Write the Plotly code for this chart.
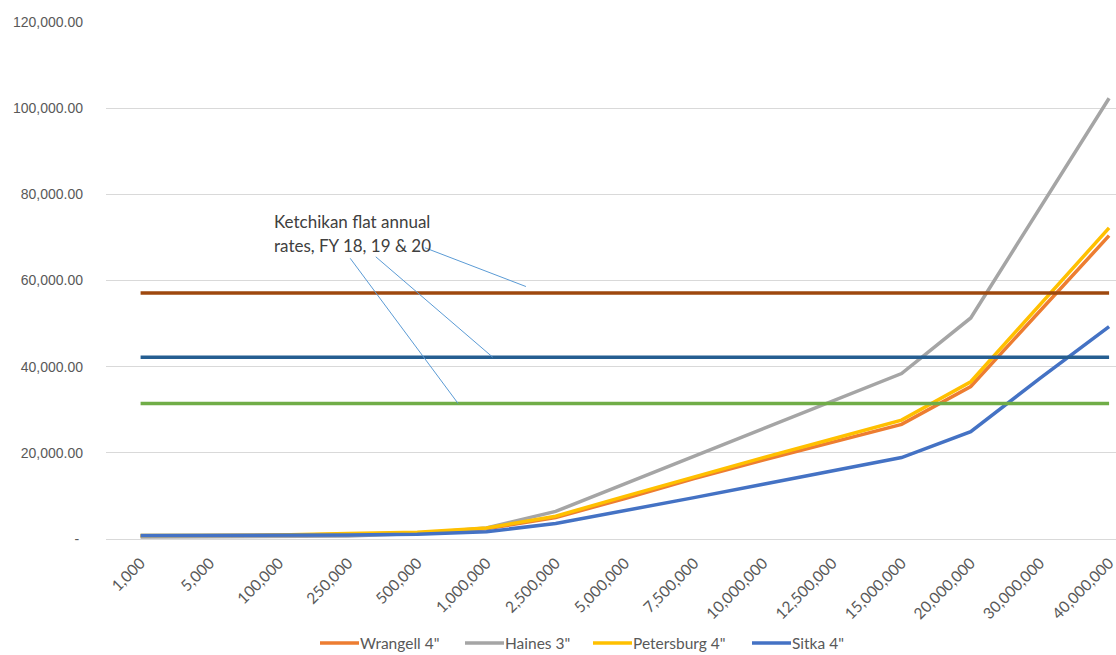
import plotly.graph_objects as go

# Annual water volume (gallons) used as the category axis
volumes = ["1,000", "5,000", "100,000", "250,000", "500,000", "1,000,000",
           "2,500,000", "5,000,000", "7,500,000", "10,000,000", "12,500,000",
           "15,000,000", "20,000,000", "30,000,000", "40,000,000"]

# Annual charge for each community at those volumes
wrangell_4in = [700, 750, 850, 1100, 1400, 2350, 5000, 9400, 14000, 18300,
                22500, 26600, 35400, 52800, 70400]
haines_3in = [450, 470, 500, 700, 1300, 2560, 6400, 12800, 19000, 25400,
              31900, 38400, 51300, 76800, 102300]
petersburg_4in = [800, 850, 900, 1250, 1550, 2550, 5300, 9900, 14500, 18900,
                  23200, 27600, 36500, 54300, 72200]
sitka_4in = [800, 800, 820, 930, 1090, 1700, 3600, 6500, 9600, 12700,
             15800, 18900, 24900, 37300, 49300]

# Ketchikan flat annual rates (FY 18, 19, 20)
ketchikan_fy18 = 57100
ketchikan_fy19 = 42200
ketchikan_fy20 = 31450

y_ticks = [0, 20000, 40000, 60000, 80000, 100000, 120000]
y_tick_text = ["-\u00a0", "20,000.00", "40,000.00", "60,000.00",
               "80,000.00", "100,000.00", "120,000.00"]

series = [
    ("Wrangell 4\"", wrangell_4in, "#ED7D31"),
    ("Haines 3\"", haines_3in, "#A5A5A5"),
    ("Petersburg 4\"", petersburg_4in, "#FFC000"),
    ("Sitka 4\"", sitka_4in, "#4472C4"),
]

flat_rates = [
    ("Ketchikan FY 18", ketchikan_fy18, "#9E480E"),
    ("Ketchikan FY 19", ketchikan_fy19, "#255E91"),
    ("Ketchikan FY 20", ketchikan_fy20, "#70AD47"),
]

# Figure geometry (pixels)
W, H = 1116, 655
ML, MR, MT, MB = 106, 0, 22, 116
PW, PH = W - ML - MR, H - MT - MB


def px_to_paper_x(px):
    return (px - ML) / PW


def px_to_paper_y(py):
    return (H - MB - py) / PH


fig = go.Figure()

for name, values, color in series:
    fig.add_trace(go.Scatter(
        x=volumes, y=values, name=name, mode="lines",
        line=dict(color=color, width=3.5), showlegend=False,
    ))

for name, rate, color in flat_rates:
    fig.add_trace(go.Scatter(
        x=volumes, y=[rate] * len(volumes), name=name, mode="lines",
        line=dict(color=color, width=3.5), showlegend=False,
    ))

# Callout label for the flat-rate lines
label_font = dict(family="Lato, sans-serif", size=17, color="#404040")
fig.add_annotation(x=1.9, y=73600, xref="x", yref="y", text="Ketchikan flat annual",
                   showarrow=False, xanchor="left", yanchor="middle", font=label_font)
fig.add_annotation(x=1.9, y=68200, xref="x", yref="y", text="rates, FY 18, 19 & 20",
                   showarrow=False, xanchor="left", yanchor="middle", font=label_font)

# Leader lines from the label to each flat-rate line
leaders = [
    (4.11, 67600, 5.57, ketchikan_fy18 + 1500),
    (3.40, 65500, 5.09, ketchikan_fy19),
    (3.03, 65150, 4.59, ketchikan_fy20),
]
for x0, y0, x1, y1 in leaders:
    fig.add_shape(type="line", xref="x", yref="y", x0=x0, y0=y0, x1=x1, y1=y1,
                  line=dict(color="#5B9BD5", width=1))

# Legend row below the axis: swatch line followed by the series name
legend_starts = [320, 465, 593, 752]
legend_y = px_to_paper_y(643)
for (name, _, color), start in zip(series, legend_starts):
    fig.add_shape(type="line", xref="paper", yref="paper",
                  x0=px_to_paper_x(start), x1=px_to_paper_x(start + 39),
                  y0=legend_y, y1=legend_y,
                  line=dict(color=color, width=3.5))
    fig.add_annotation(x=px_to_paper_x(start + 40), y=legend_y, xref="paper", yref="paper",
                       text=name, showarrow=False, xanchor="left", yanchor="middle",
                       xshift=-2,
                       font=dict(family="Lato, sans-serif", size=15.5, color="#595959"))

fig.update_layout(
    width=W, height=H,
    margin=dict(l=ML, r=MR, t=MT, b=MB, autoexpand=False),
    plot_bgcolor="white", paper_bgcolor="white",
    showlegend=False,
    xaxis=dict(
        type="category", range=[-0.5, 14.1], automargin=False,
        tickangle=-45, showgrid=False, zeroline=False,
        showline=True, linecolor="#D9D9D9", linewidth=1,
        ticks="", ticklabelstandoff=8,
        tickfont=dict(family="Lato, sans-serif", size=15.5, color="#595959"),
    ),
    yaxis=dict(
        range=[0, 120000], tickvals=y_ticks, ticktext=y_tick_text, automargin=False,
        showgrid=True, gridcolor="#D9D9D9", gridwidth=1, zeroline=False,
        ticks="", ticklabelstandoff=22,
        tickfont=dict(family="Liberation Sans, Arial, sans-serif", size=14, color="#595959"),
    ),
)

fig.write_html("out.html")
